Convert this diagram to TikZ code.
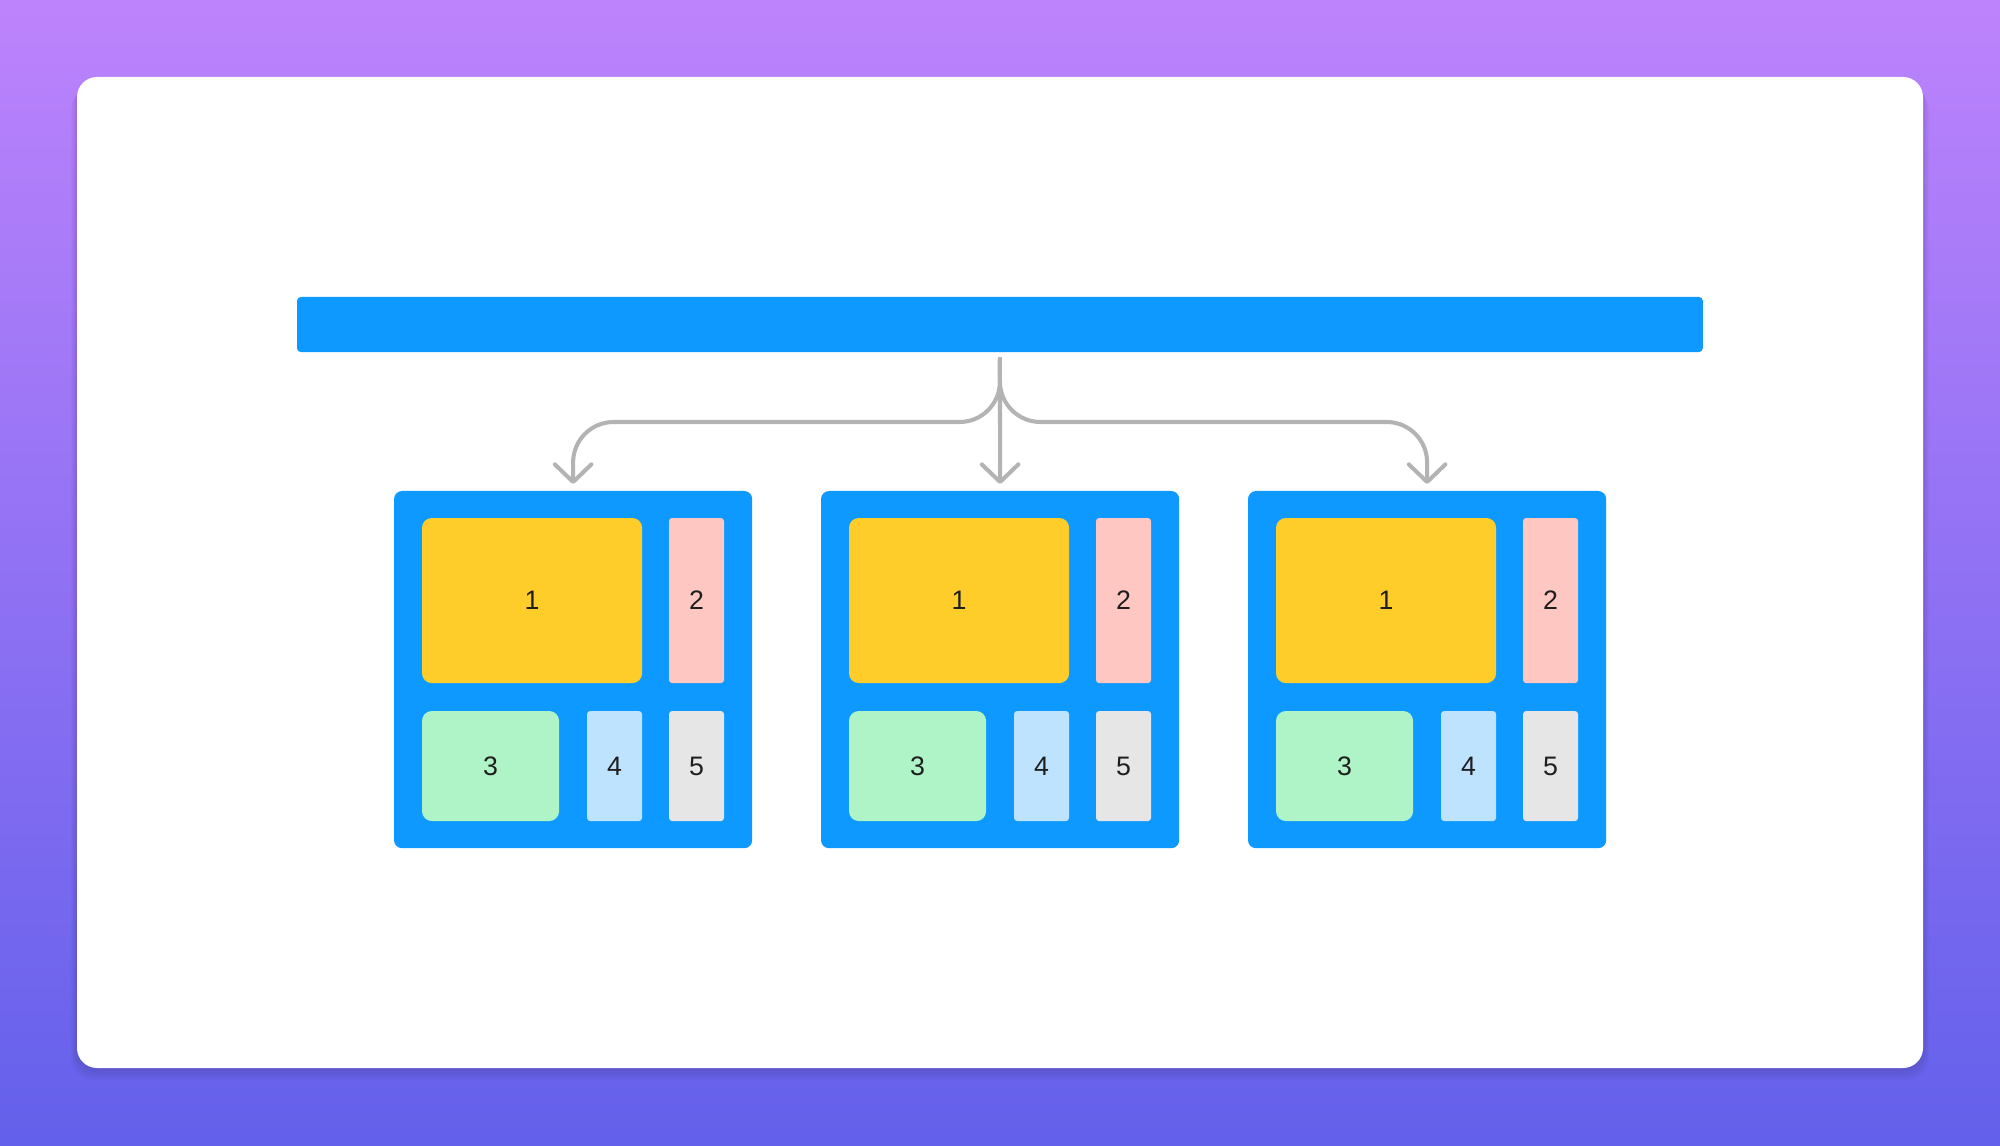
\documentclass[tikz,border=0pt]{standalone}
\usepackage{fontspec}
\setmainfont{Liberation Sans}
\usetikzlibrary{arrows.meta}
\definecolor{bgtop}{RGB}{189,131,252}
\definecolor{bgbot}{RGB}{99,96,235}
\definecolor{blueb}{RGB}{13,153,255}
\definecolor{cyel}{RGB}{255,205,41}
\definecolor{cpink}{RGB}{255,199,194}
\definecolor{cgreen}{RGB}{175,244,198}
\definecolor{clblue}{RGB}{189,227,255}
\definecolor{cgrey}{RGB}{230,230,230}
\definecolor{cline}{RGB}{179,179,179}
\definecolor{ctext}{RGB}{30,30,30}
\begin{document}
\begin{tikzpicture}[x=0.01cm,y=-0.01cm,
 panel/.style={fill=blueb, rounded corners=2.3pt, inner sep=0, outer sep=0, minimum width=3.58cm, minimum height=3.57cm, anchor=north west},
 tile/.style={inner sep=0, outer sep=0, anchor=north west, font=\fontsize{7.6}{9}\selectfont, text=ctext},
 big/.style={tile, rounded corners=2.8pt},
 slim/.style={tile, rounded corners=0.9pt, minimum width=0.55cm},
 conn/.style={draw=cline, line width=1.15pt, line cap=round, rounded corners=11.5pt, -{Straight Barb[length=5pt,width=10.4pt,round]}}
]
\useasboundingbox (0,0) rectangle (2000,1146);
\shade[top color=bgtop, bottom color=bgbot] (0,0) rectangle (2000,1146);
\foreach \k in {1,...,6}{
  \fill[black, opacity=0.018, rounded corners=6pt] (77-\k,77+2*\k) rectangle (1923+\k,1068+2*\k);
}
\fill[white, rounded corners=5.7pt] (77,77) rectangle (1923,1068);
\node[fill=blueb, rounded corners=1.1pt, inner sep=0, outer sep=0, minimum width=14.05cm, minimum height=0.55cm, anchor=north west] (bar) at (297,297) {};
\foreach \i/\dx in {1/0,2/427,3/854}{
  \node[panel] (b\i) at (394+\dx,491) {};
  \node[big, fill=cyel, minimum width=2.2cm, minimum height=1.65cm] (b\i-1) at (422+\dx,518) {1};
  \node[slim, fill=cpink, minimum height=1.65cm] (b\i-2) at (669+\dx,518) {2};
  \node[big, fill=cgreen, minimum width=1.37cm, minimum height=1.1cm] (b\i-3) at (422+\dx,711) {3};
  \node[slim, fill=clblue, minimum height=1.1cm] (b\i-4) at (587+\dx,711) {4};
  \node[slim, fill=cgrey, minimum height=1.1cm] (b\i-5) at (669+\dx,711) {5};
}
\coordinate (s) at ([yshift=-0.07cm]bar.south);
\coordinate (fork) at (1000,422);
\draw[conn] (s) -- (fork) -| ([yshift=0.07cm]b1.north);
\draw[conn] (s) -- (fork) -| ([yshift=0.07cm]b3.north);
\draw[conn] (s) -- ([yshift=0.07cm]b2.north);
\end{tikzpicture}
\end{document}
